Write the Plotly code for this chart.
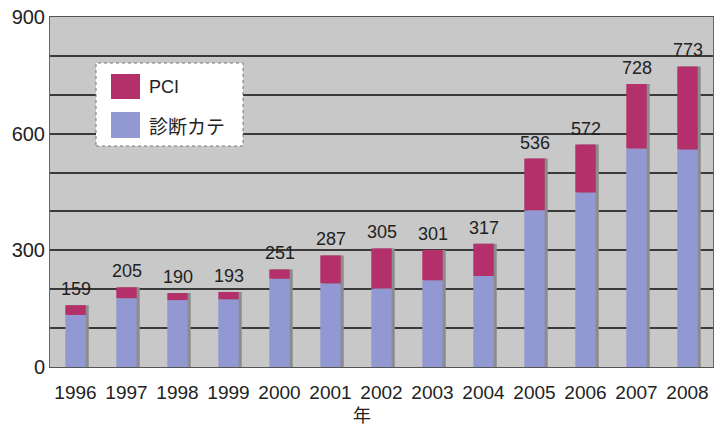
import plotly.graph_objects as go

years = ["1996", "1997", "1998", "1999", "2000", "2001", "2002",
         "2003", "2004", "2005", "2006", "2007", "2008"]
totals = [159, 205, 190, 193, 251, 287, 305, 301, 317, 536, 572, 728, 773]
diag = [134, 177, 172, 174, 227, 215, 202, 223, 234, 403, 449, 562, 559]
pci = [t - d for t, d in zip(totals, diag)]

PCI_COLOR = "#b3306a"
DIAG_COLOR = "#9198d2"
BG = "#c8c8c8"
FONT = "Liberation Sans, Arial, sans-serif"
BAR_W = 0.4

fig = go.Figure()

# drop shadow behind each stacked column
fig.add_trace(go.Bar(
    x=years, y=totals, width=BAR_W, offset=-BAR_W / 2 + 0.06,
    marker=dict(color="#8c8c8c", line=dict(width=0)),
    showlegend=False, hoverinfo="skip",
))
fig.add_trace(go.Bar(
    x=years, y=diag, name="診断カテ", width=BAR_W, offset=-BAR_W / 2,
    marker=dict(color=DIAG_COLOR, line=dict(width=0)),
))
fig.add_trace(go.Bar(
    x=years, y=pci, base=diag, name="PCI", width=BAR_W, offset=-BAR_W / 2,
    marker=dict(color=PCI_COLOR, line=dict(width=0)),
))

# totals written above the columns (x given as category index)
value_labels = [
    dict(x=i, y=t, text=str(t), xref="x", yref="y", showarrow=False,
         yanchor="middle", yshift=16,
         font=dict(family=FONT, size=18, color="#222"))
    for i, t in enumerate(totals)
]

# hand-drawn legend box
def px_x(p):
    return (p - 50) / 663

def px_y(p):
    return (367 - p) / 350

shapes = [
    dict(type="rect", xref="paper", yref="paper",
         x0=px_x(96), x1=px_x(243), y0=px_y(146), y1=px_y(63),
         fillcolor="white", line=dict(color="#777", width=1, dash="dot"),
         layer="above"),
    dict(type="rect", xref="paper", yref="paper",
         x0=px_x(111), x1=px_x(140), y0=px_y(99), y1=px_y(74),
         fillcolor=PCI_COLOR, line=dict(width=0), layer="above"),
    dict(type="rect", xref="paper", yref="paper",
         x0=px_x(111), x1=px_x(140), y0=px_y(138), y1=px_y(112),
         fillcolor=DIAG_COLOR, line=dict(width=0), layer="above"),
]
annotations = value_labels + [
    dict(text="PCI", xref="paper", yref="paper", x=px_x(147), y=px_y(87),
         xanchor="left", yanchor="middle", showarrow=False,
         font=dict(family=FONT, size=18, color="#222")),
    dict(text="診断カテ", xref="paper", yref="paper", x=px_x(147), y=px_y(125),
         xanchor="left", yanchor="middle", showarrow=False,
         font=dict(family="Noto Sans CJK JP", size=19, color="#222")),
    dict(text="年", xref="paper", yref="paper", x=px_x(362), y=px_y(414),
         xanchor="center", yanchor="middle", showarrow=False,
         font=dict(family="Noto Sans CJK JP", size=18, color="#222")),
]

fig.update_layout(
    width=715, height=427,
    margin=dict(l=50, r=2, t=17, b=60),
    paper_bgcolor="white", plot_bgcolor=BG,
    barmode="overlay", bargap=0.6,
    showlegend=False,
    font=dict(family=FONT, color="#222"),
    shapes=shapes, annotations=annotations,
    xaxis=dict(
        type="category", showgrid=False, ticks="",
        range=[-0.5, len(years) - 0.5],
        tickfont=dict(family=FONT, size=19, color="#222"),
        ticklabelstandoff=8,
        showline=True, linecolor="#555", linewidth=1, mirror=True,
    ),
    yaxis=dict(
        range=[0, 900], tickvals=[0, 300, 600, 900],
        tickfont=dict(family=FONT, size=20, color="#222"),
        showgrid=True, gridcolor="#3a3a3a", gridwidth=1.5,
        minor=dict(dtick=100, showgrid=True, gridcolor="#3a3a3a", gridwidth=1.5),
        showline=True, linecolor="#666", linewidth=1, mirror=True,
        zeroline=False, ticks="", ticklen=0,
    ),
)

fig.write_html("out.html")
